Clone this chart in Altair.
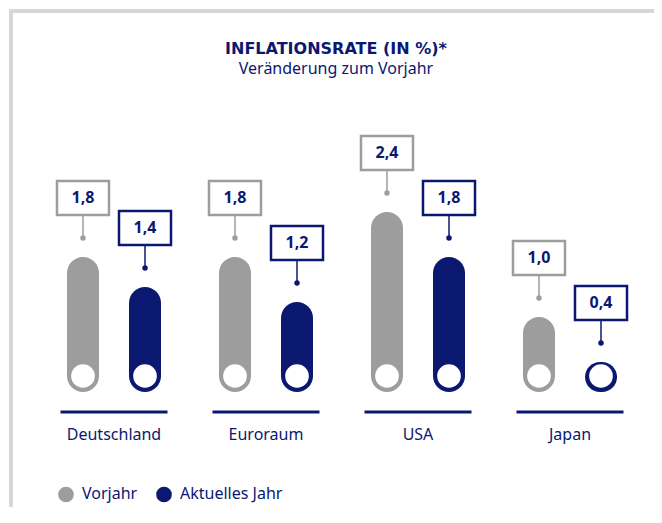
import altair as alt
import pandas as pd

countries = ["Deutschland", "Euroraum", "USA", "Japan"]
series = ["Vorjahr", "Aktuelles Jahr"]
vorjahr = [1.8, 1.8, 2.4, 1.0]
aktuell = [1.4, 1.2, 1.8, 0.4]

GRAY = "#9d9d9d"
NAVY = "#0b1870"
FONT = "Noto Sans"

rows = []
for c, v, a in zip(countries, vorjahr, aktuell):
    rows.append({"land": c, "reihe": series[0], "wert": v})
    rows.append({"land": c, "reihe": series[1], "wert": a})
df = pd.DataFrame(rows)
df_land = pd.DataFrame({"land": countries})

xsc = alt.Scale(paddingInner=0.184, paddingOuter=0.092)
xs = alt.X("land:N", sort=countries, scale=xsc,
           axis=alt.Axis(title=None, domain=False, ticks=False, labelAngle=0,
                         labelPadding=34, labelFontSize=16, labelColor=NAVY,
                         labelFont=FONT))
xo = alt.XOffset("reihe:N", sort=series, scale=alt.Scale(paddingInner=0, paddingOuter=0))
ysc = alt.Scale(domain=[0, 3], nice=False)
ys = alt.Y("wert:Q", scale=ysc, axis=None)
col_scale = alt.Scale(domain=series, range=[GRAY, NAVY])

base = alt.Chart(df)

bars = base.mark_bar(width=32, cornerRadius=16).encode(
    x=xs, xOffset=xo, y=ys,
    color=alt.Color("reihe:N", scale=col_scale, sort=series,
                    legend=alt.Legend(title=None, orient="none", legendX=20, legendY=319,
                                      direction="horizontal", symbolType="circle",
                                      symbolSize=200, labelFontSize=16, labelColor=NAVY,
                                      labelFont=FONT, labelOffset=8, columnPadding=15,
                                      symbolOpacity=1)))

inner = base.mark_point(shape="circle", filled=True, color="white", opacity=1,
                        size=560, yOffset=-16).transform_calculate(null0="0").encode(
    x=xs, xOffset=xo, y=alt.Y("null0:Q", scale=ysc, axis=None))

dots = base.mark_circle(size=30, yOffset=-19, opacity=1).encode(
    x=xs, xOffset=xo, y=ys,
    color=alt.Color("reihe:N", scale=col_scale, sort=series))

stems = base.mark_rule(yOffset=-19, y2Offset=-42, strokeWidth=1.5).encode(
    x=xs, xOffset=xo, y=ys, y2="wert:Q",
    color=alt.Color("reihe:N", scale=col_scale, sort=series))

boxes = base.mark_point(shape="M-1.53,-1L1.53,-1L1.53,1L-1.53,1Z", size=1156,
                        fill="white", fillOpacity=1, strokeWidth=2.5, opacity=1,
                        yOffset=-59).encode(
    x=xs, xOffset=xo, y=ys,
    stroke=alt.Stroke("reihe:N", scale=col_scale, sort=series, legend=None))

labels = base.mark_text(yOffset=-59, fontSize=16, fontWeight="bold", color=NAVY,
                        font=FONT, baseline="middle").transform_calculate(
    txt="replace(format(datum.wert, '.1f'), '.', ',')").encode(
    x=xs, xOffset=xo, y=ys, text="txt:N")

underline = alt.Chart(df_land).mark_tick(thickness=3, size=107, color=NAVY,
                                         yOffset=20, opacity=1).transform_calculate(
    null0="0").encode(
    x=alt.X("land:N", sort=countries, scale=xsc),
    y=alt.Y("null0:Q", scale=ysc, axis=None))

frame = alt.Chart(df_land).mark_rect(fillOpacity=0, stroke="#d6d6d6",
                                     strokeWidth=3).encode(
    x=alt.value(-27), x2=alt.value(800), y=alt.value(-156), y2=alt.value(800))

chart = alt.layer(frame, bars, inner, underline, stems, dots, boxes, labels).properties(
    width=608, height=225,
    padding={"left": 30, "top": 159, "right": 8, "bottom": 115},
    autosize=alt.AutoSizeParams(type="none"),
    title=alt.TitleParams("INFLATIONSRATE (IN %)*", subtitle="Veränderung zum Vorjahr",
                          font="DejaVu Sans", fontSize=16, fontWeight="bold", color=NAVY,
                          subtitleFont=FONT, subtitleFontSize=16, subtitleColor=NAVY,
                          anchor="middle", offset=-67, dx=-6, subtitlePadding=4)
).configure(background="white").configure_view(stroke=None)

chart.save("out.html", embed_options={"renderer": "svg", "actions": False})
